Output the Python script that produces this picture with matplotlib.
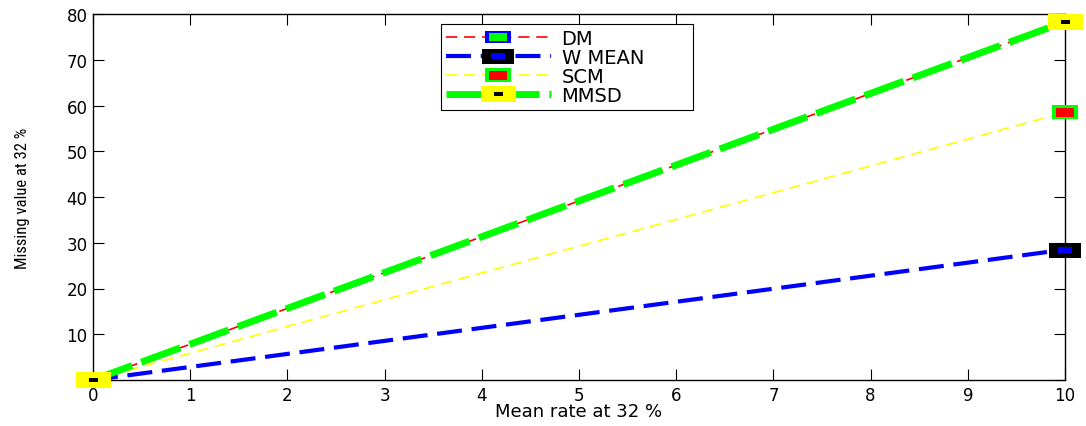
import matplotlib.pyplot as plt
from matplotlib.path import Path
from matplotlib.legend_handler import HandlerTuple

# datos
x = [0, 10]
dm = [0, 78.3]
w_mean = [0, 28.5]
scm = [0, 58.5]
mmsd = [0, 78.3]
etiquetas = ['DM', 'W MEAN', 'SCM', 'MMSD']

plt.rcParams['font.family'] = ['DejaVu Sans']
plt.rcParams['lines.scale_dashes'] = False


def rect(w, h):
    # marcador rectangular (w, h en pixeles)
    verts = [(-w / 2, -h / 2), (w / 2, -h / 2), (w / 2, h / 2), (-w / 2, h / 2), (-w / 2, -h / 2)]
    return Path(verts, [Path.MOVETO, Path.LINETO, Path.LINETO, Path.LINETO, Path.CLOSEPOLY]), w * 0.72


# estilos: color linea, ancho, guiones, (ancho, alto, color) exterior e interior
estilos = [
    ('red', 1.2, (8, 5), (27, 13, 'blue'), (18, 8, '#00ff00')),
    ('blue', 3.0, (18, 7), (32, 15, 'black'), (14, 6, 'blue')),
    ('#ffff00', 1.2, (8, 5), (27, 14, '#00ff00'), (18, 9, 'red')),
    ('#00ff00', 5.0, (30, 7), (35, 16, '#ffff00'), (9, 4, 'black')),
]

fig = plt.figure(figsize=(10.86, 4.27), dpi=100)
ax = fig.add_axes([93 / 1086, 46 / 427, 972 / 1086, 366 / 427])

handles = []
for i, (serie, (color, lw, dash, outer, inner)) in enumerate(zip([dm, w_mean, scm, mmsd], estilos)):
    linea, = ax.plot(x, serie, color=color, lw=lw, dashes=dash, zorder=3)
    p_out, ms_out = rect(outer[0], outer[1])
    p_in, ms_in = rect(inner[0], inner[1])
    m1, = ax.plot(x, serie, ls='none', marker=p_out, markersize=ms_out, mfc=outer[2],
                  mec='none', mew=0, clip_on=False, zorder=5 + 2 * i)
    m2, = ax.plot(x, serie, ls='none', marker=p_in, markersize=ms_in, mfc=inner[2],
                  mec='none', mew=0, clip_on=False, zorder=6 + 2 * i)
    handles.append((linea, m1, m2))

ax.set_xlim(0, 10)
ax.set_ylim(0, 80)
ax.set_xticks(range(0, 11))
ax.set_yticks(range(0, 81, 10))
ax.tick_params(direction='in', length=8, width=0.8, top=True, right=True,
               labelsize=12, pad=4)
for s in ax.spines.values():
    s.set_linewidth(1.0)

ax.set_xlabel('Mean rate at 32 %', fontsize=13, labelpad=-1)
ax.set_ylabel('Missing value at 32 %', fontsize=12, labelpad=26,
              family=['Roboto Condensed', 'Liberation Sans Narrow', 'DejaVu Sans'])

leg = fig.legend(handles, etiquetas, handler_map={tuple: HandlerTuple(ndivide=1)},
                 loc='upper left', bbox_to_anchor=(441 / 1086, 1 - 109 / 427, 252 / 1086, 84 / 427),
                 mode='expand', borderaxespad=0, fontsize=14, handlelength=5.4,
                 labelspacing=0.0, handletextpad=0.55, borderpad=0.25, fancybox=False,
                 framealpha=1, edgecolor='black')
leg.get_frame().set_linewidth(0.8)

plt.savefig('out.png', dpi=100)
